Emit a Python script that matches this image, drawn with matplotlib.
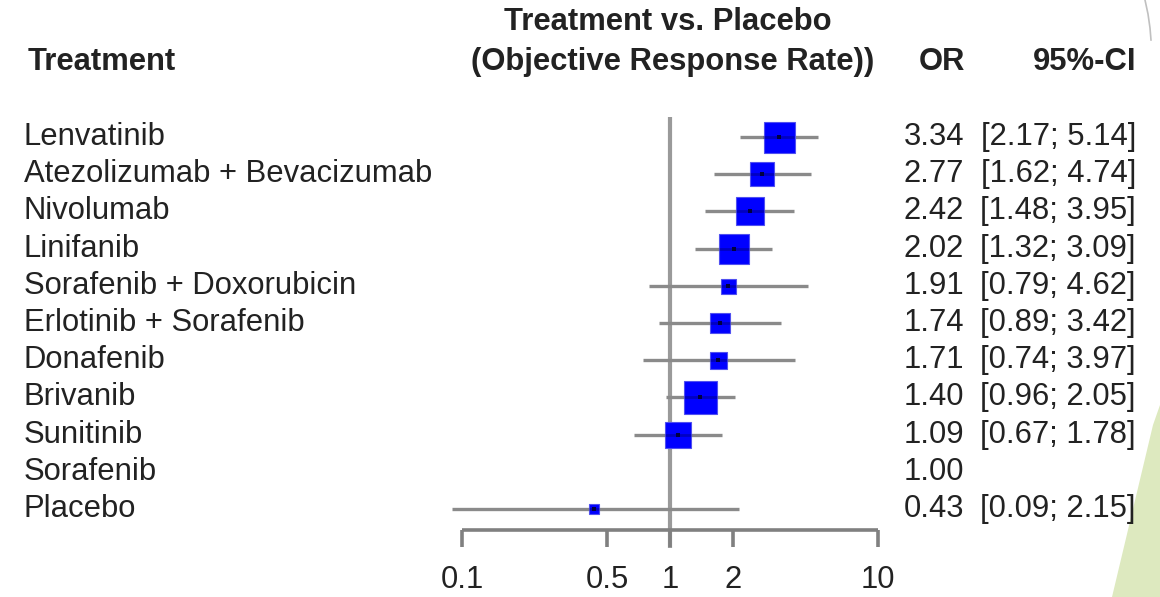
import matplotlib
matplotlib.use("Agg")
import matplotlib.pyplot as plt
from matplotlib.patches import Polygon
import matplotlib.transforms as mtransforms

treatments = ["Lenvatinib", "Atezolizumab + Bevacizumab", "Nivolumab", "Linifanib",
              "Sorafenib + Doxorubicin", "Erlotinib + Sorafenib", "Donafenib",
              "Brivanib", "Sunitinib", "Sorafenib", "Placebo"]
odds_ratio = [3.34, 2.77, 2.42, 2.02, 1.91, 1.74, 1.71, 1.40, 1.09, 1.00, 0.43]
ci_lower = [2.17, 1.62, 1.48, 1.32, 0.79, 0.89, 0.74, 0.96, 0.67, None, 0.09]
ci_upper = [5.14, 4.74, 3.95, 3.09, 4.62, 3.42, 3.97, 2.05, 1.78, None, 2.15]
weights = [31, 24, 28, 30, 15, 20, 17, 33, 26, 0, 10]
tick_values = [0.1, 0.5, 1, 2, 10]
tick_labels = ["0.1", "0.5", "1", "2", "10"]

W, H = 1160, 597
fig = plt.figure(figsize=(W / 100, H / 100), dpi=100)
plt.rcParams['font.family'] = ['Liberation Sans', 'DejaVu Sans']

FS = 22.3
TXT = "#222222"

# background decoration layer in pixel coordinates
deco = fig.add_axes([0, 0, 1, 1])
deco.set_xlim(0, W)
deco.set_ylim(H, 0)
deco.axis("off")
deco.set_zorder(0)
deco.add_patch(Polygon([(1112, 597), (1160, 597), (1160, 405), (1153, 425)],
                       closed=True, facecolor="#dde9bf", edgecolor="none"))
deco.plot([1145, 1148, 1150, 1151], [0, 14, 28, 40], color="#c0c0c0", lw=1.2)

# forest axes: 0.1 -> 462 px, 10 -> 878 px
x0, x1 = 462, 878
ax = fig.add_axes([x0 / W, 0, (x1 - x0) / W, 1])
ax.set_zorder(5)
ax.patch.set_visible(False)
ax.set_xscale("log")
ax.set_xlim(0.1, 10)
row0, step = 137, 37.2
ax.set_ylim((H - row0) / step, -row0 / step)
ax.axis("off")
px_per_decade = (x1 - x0) / 2.0

def pix2row(p):
    return (p - row0) / step

# reference line at 1
ax.plot([1, 1], [pix2row(117), pix2row(548)], color="#9a9a9a", lw=3.0,
        solid_capstyle="butt", zorder=1, clip_on=False)

# axis line and ticks
ax.plot([0.1, 10], [pix2row(530), pix2row(530)], color="#808080", lw=2.6,
        solid_capstyle="butt", clip_on=False, zorder=1)
for tv, tl in zip(tick_values, tick_labels):
    ax.plot([tv, tv], [pix2row(530), pix2row(547)], color="#808080", lw=2.6,
            solid_capstyle="butt", clip_on=False, zorder=1)
    ax.text(tv, pix2row(580), tl, ha="center", va="center", fontsize=FS, color=TXT)

trans_l = mtransforms.blended_transform_factory(fig.transFigure, ax.transData)
for i, (orv, lo, hi, w) in enumerate(zip(odds_ratio, ci_lower, ci_upper, weights)):
    if lo is not None:
        ax.plot([lo, hi], [i, i], color="#8a8a8a", lw=2.4, solid_capstyle="butt",
                zorder=2, clip_on=False)
        ax.plot([orv], [i], marker="s", markersize=w * 0.72, color="#0000ff",
                markeredgecolor="#5050f0", markeredgewidth=0.8, zorder=3, clip_on=False)
        f = 10 ** (w / 2 / px_per_decade)
        ax.plot([max(lo, orv / f), min(hi, orv * f)], [i, i], color="#000050", lw=2.0,
                alpha=0.35, solid_capstyle="butt", zorder=4, clip_on=False)
        ax.plot([orv], [i], marker="s", markersize=2.2, color="#000040",
                markeredgewidth=0, zorder=5, clip_on=False)
        ax.text(1136 / W, i, f"[{lo:.2f}; {hi:.2f}]", transform=trans_l, ha="right",
                va="center", fontsize=FS, color=TXT)
    ax.text(24 / W, i, treatments[i], transform=trans_l, ha="left", va="center",
            fontsize=FS, color=TXT)
    ax.text(964 / W, i, f"{orv:.2f}", transform=trans_l, ha="right", va="center",
            fontsize=FS, color=TXT)

# headers
fig.text(28 / W, 1 - 62 / H, "Treatment", ha="left", va="center", fontsize=FS,
         fontweight="bold", color=TXT)
fig.text(668 / W, 1 - 22 / H, "Treatment vs. Placebo", ha="center", va="center",
         fontsize=FS, fontweight="bold", color=TXT)
fig.text(673 / W, 1 - 62 / H, "(Objective Response Rate))", ha="center", va="center",
         fontsize=FS, fontweight="bold", color=TXT)
fig.text(965 / W, 1 - 62 / H, "OR", ha="right", va="center", fontsize=FS,
         fontweight="bold", color=TXT)
fig.text(1136 / W, 1 - 62 / H, "95%-CI", ha="right", va="center", fontsize=FS,
         fontweight="bold", color=TXT)

fig.savefig("out.png", dpi=100, facecolor="white")
